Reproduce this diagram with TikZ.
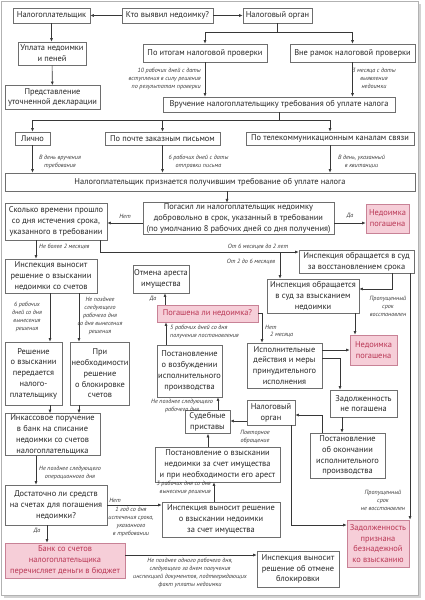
\documentclass[tikz,border=0pt]{standalone}
\usepackage{fontspec}
\setmainfont{PT Sans}
\usetikzlibrary{arrows.meta}
\definecolor{boxc}{RGB}{110,110,110}
\definecolor{txtc}{RGB}{40,40,40}
\definecolor{linec}{RGB}{55,55,55}
\definecolor{pinkf}{RGB}{246,206,216}
\definecolor{pinkd}{RGB}{200,130,150}
\definecolor{pinkt}{RGB}{185,55,85}
\definecolor{labc}{RGB}{60,60,60}
\newcommand\bxfont{\fontsize{8.4}{10.8}\selectfont}
\newcommand\lbfont{\fontsize{6.1}{7.9}\selectfont\itshape}
\begin{document}
\begin{tikzpicture}[x=1pt,y=-1pt,
 bx/.style={draw=boxc, line width=0.7pt, fill=white, text=txtc, align=center, font=\bxfont, inner sep=1pt},
 pk/.style={bx, fill=pinkf, draw=pinkd, text=pinkt},
 lb/.style={font=\lbfont, text=labc, align=center, inner sep=0pt},
 ar/.style={draw=linec, line width=0.6pt, -{Latex[length=3.5pt,width=3pt]}},
 ln/.style={draw=linec, line width=0.6pt}]
\useasboundingbox (0,0) rectangle (424,600);
\fill[white] (0,0) rectangle (424,600);
\fill[gray!35] (4,4) rectangle (421,598);
\draw[gray!60, line width=1pt, fill=white] (1.5,1.5) rectangle (418.5,595.5);

% nodes
\node[bx,minimum width=77pt,minimum height=15pt] (np) at (51.5,15.5) {Налогоплательщик};
\node[bx,minimum width=91pt,minimum height=15pt] (who) at (167.5,15.5) {Кто выявил недоимку?};
\node[bx,minimum width=69pt,minimum height=15pt] (no) at (277.5,15.5) {Налоговый орган};
\node[bx,minimum width=68pt,minimum height=23pt] (pay) at (52,53.5) {Уплата недоимки\\и пеней};
\node[bx,minimum width=95pt,minimum height=24pt] (decl) at (52.5,97.5) {Представление\\уточненной декларации};
\node[bx,minimum width=124pt,minimum height=18pt] (audit) at (205,53) {По итогам налоговой проверки};
\node[bx,minimum width=125pt,minimum height=18pt] (outs) at (352.5,53) {Вне рамок налоговой проверки};
\node[bx,minimum width=232pt,minimum height=15pt] (serve) at (279,104.5) {Вручение налогоплательщику требования об уплате налога};
\node[bx,minimum width=35pt,minimum height=13pt] (pers) at (32.5,138.5) {Лично};
\node[bx,minimum width=115pt,minimum height=13pt] (mail) at (162.5,138.5) {По почте заказным письмом};
\node[bx,minimum width=168pt,minimum height=13pt] (tele) at (330,138.5) {По телекоммуникационным каналам связи};
\node[bx,minimum width=410pt,minimum height=18pt] (recv) at (210,182) {Налогоплательщик признается получившим требование об уплате налога};
\node[bx,minimum width=191pt,minimum height=31pt] (vol) at (238.5,218.5) {Погасил ли налогоплательщик недоимку\\добровольно в срок, указанный в требовании\\(по умолчанию 8 рабочих дней со дня получения)};
\node[bx,minimum width=102pt,minimum height=37pt] (long) at (56,221.5) {Сколько времени прошло\\со дня истечения срока,\\указанного в требовании};
\node[pk,minimum width=43pt,minimum height=29pt] (pd1) at (387.5,218.5) {Недоимка\\погашена};
\node[bx,minimum width=115pt,minimum height=23pt] (rest) at (356.5,261.5) {Инспекция обращается в суд\\за восстановлением срока};
\node[bx,minimum width=92pt,minimum height=34pt] (court) at (313,296) {Инспекция обращается\\в суд за взысканием\\недоимки};
\node[bx,minimum width=92pt,minimum height=34pt] (dec) at (51,276) {Инспекция выносит\\решение о взыскании\\недоимки со счетов};
\node[bx,minimum width=52pt,minimum height=28pt] (unar) at (161,279) {Отмена ареста\\имущества};
\node[pk,minimum width=101pt,minimum height=17pt] (pq) at (207.5,313.5) {Погашена ли недоимка?};
\node[bx,minimum width=57pt,minimum height=63pt] (trans) at (33.5,373.5) {Решение\\о взыскании\\передается\\налого-\\плательщику};
\node[bx,minimum width=56pt,minimum height=63pt] (block) at (100,373.5) {При\\необходимости\\решение\\о блокировке\\счетов};
\node[bx,minimum width=65pt,minimum height=52pt] (vozb) at (189.5,371) {Постановление\\о возбуждении\\исполнительного\\производства};
\node[bx,minimum width=75pt,minimum height=45pt] (exec) at (284.5,365.5) {Исполнительные\\действия и меры\\принудительного\\исполнения};
\node[pk,minimum width=47pt,minimum height=30pt] (pd3) at (373.5,350) {Недоимка\\погашена};
\node[bx,minimum width=67pt,minimum height=27pt] (notp) at (363.5,403.5) {Задолженность\\не погашена};
\node[bx,minimum width=48pt,minimum height=25pt] (no2) at (271,412.5) {Налоговый\\орган};
\node[bx,minimum width=45pt,minimum height=23pt] (bail) at (207.5,422) {Судебные\\приставы};
\node[bx,minimum width=95pt,minimum height=42pt] (ink) at (52.5,434.5) {Инкассовое поручение\\в банк на списание\\недоимки со счетов\\налогоплательщика};
\node[bx,minimum width=75pt,minimum height=45pt] (end) at (347.5,455.5) {Постановление\\об окончании\\исполнительного\\производства};
\node[bx,minimum width=125pt,minimum height=35pt] (arr) at (217.5,464.5) {Постановление о взыскании\\недоимки за счет имущества\\и при необходимости его арест};
\node[bx,minimum width=102pt,minimum height=40pt] (enough) at (56,505) {Достаточно ли средств\\на счетах для погашения\\недоимки?};
\node[bx,minimum width=118pt,minimum height=35pt] (prop) at (221,519.5) {Инспекция выносит решение\\о взыскании недоимки\\за счет имущества};
\node[pk,minimum width=120pt,minimum height=35pt] (bank) at (65,560.5) {Банк со счетов\\налогоплательщика\\перечисляет деньги в бюджет};
\node[pk,minimum width=62pt,minimum height=47pt] (hope) at (378,543.5) {Задолженность\\признана\\безнадежной\\ко взысканию};
\node[bx,minimum width=82pt,minimum height=36pt] (unbl) at (298,569) {Инспекция выносит\\решение об отмене\\блокировки};

% labels
\node[lb,anchor=east,align=right] (l1) at (201,79) {10 рабочих дней с даты\\вступления в силу решения\\по результатам проверки};
\node[lb] (l2) at (374,78) {3 месяца с даты\\выявления\\недоимки};
\node[lb] (l3) at (60,161.5) {В день вручения\\требования};
\node[lb] (l4) at (198.5,161.5) {6 рабочих дней с даты\\отправки письма};
\node[lb] (l5) at (361.5,161.5) {В день, указанный\\в квитанции};
\node[lb] (l6) at (125,216) {Нет};
\node[lb] (l7) at (350,216) {Да};
\node[lb,anchor=west] (l8) at (39,247) {Не более 2 месяцев};
\node[lb] (l9) at (258,246.5) {От 6 месяцев до 2 лет};
\node[lb] (l10) at (251,262) {От 2 до 6 месяцев};
\node[lb] (l11) at (388,306) {Пропущенный\\срок\\восстановлен};
\node[lb] (l12) at (383,500) {Пропущенный\\срок\\не восстановлен};
\node[lb] (l13) at (27,317) {6 рабочих\\дней со дня\\вынесения\\решения};
\node[lb] (l14) at (100,316) {Не позднее\\следующего\\рабочего дня\\со дня вынесения\\решения};
\node[lb] (l15) at (70,473) {Не позднее следующего\\операционного дня};
\node[lb] (l16) at (37,531) {Да};
\node[lb] (l17) at (115,500) {Нет};
\node[lb] (l18) at (131,522) {1 год со дня\\истечения срока,\\указанного\\в требовании};
\node[lb] (l19) at (190,573) {Не позднее одного рабочего дня,\\следующего за днем получения\\инспекцией документов, подтверждающих\\факт уплаты недоимки};
\node[lb,anchor=east,align=right] (l20) at (211,488) {3 рабочих дня со дня\\вынесения решения};
\node[lb] (l21) at (182,406) {Не позднее следующего\\рабочего дня};
\node[lb,anchor=west,align=left] (l22) at (170,332) {5 рабочих дней со дня\\получения постановления};
\node[lb] (l23) at (153,299) {Да};
\node[lb,anchor=west] (l24) at (265,327) {Нет};
\node[lb,anchor=west] (l25) at (270,335) {2 месяца};
\node[lb] (l26) at (255,437) {Повторное\\обращение};

% connectors
\draw[ar] (who) -- (np);
\draw[ar] (who) -- (no);
\draw[ar] (no.south) -- ++(0,9) -| (audit.north);
\draw[ar] (no.south) -- ++(0,9) -| (outs.north);
\draw[ar] (audit.south) -- (audit.south |- serve.north);
\draw[ar] (outs.south) -- (outs.south |- serve.north);
\draw[ar] (np.south) -- (np.south |- pay.north);
\draw[ar] (pay) -- (decl);
\draw[ar] (serve.south) -- ++(0,8) -| (pers.north);
\draw[ar] (serve.south) -- ++(0,8) -| (mail.north);
\draw[ar] (serve.south) -- ++(0,8) -| (tele.north);
\draw[ar] (pers.south) -- (pers.south |- recv.north);
\draw[ar] (mail.south) -- (mail.south |- recv.north);
\draw[ar] (tele.south) -- (tele.south |- recv.north);
\draw[ar] (227,0 |- recv.south) -- (227,0 |- vol.north);
\draw[ar] (vol.west |- 0,223) -- (long.east |- 0,223);
\draw[ar] (vol.east |- 0,223) -- (pd1.west |- 0,223);
\draw[ar] (36,0 |- long.south) -- (36,0 |- dec.north);
\draw[ar] (100,0 |- long.south) |- (rest.west |- 0,252);
\coordinate (j1) at (280,252);
\draw[ar] (j1) -- (j1 |- court.north);
\draw[ar] (392,0 |- rest.south) |- (court.east |- 0,289);
\draw[ar] (410,0 |- rest.south) -- (410,0 |- hope.north);
\draw[ar] (355,0 |- court.south) -- (355,0 |- pd3.north);
\draw[ar] (50,0 |- dec.south) -- (50,0 |- trans.north);
\draw[ar] (79,0 |- dec.south) -- (79,0 |- block.north);
\draw[ar] (50,0 |- trans.south) -- (50,0 |- ink.north);
\draw[ar] (79,0 |- block.south) -- (79,0 |- ink.north);
\draw[ar] (36,0 |- ink.south) -- (36,0 |- enough.north);
\draw[ar] (47,0 |- enough.south) -- (47,0 |- bank.north);
\draw[ar] (enough.east |- 0,505) -- (prop.west |- 0,505);
\draw[ar] (bank.east |- 0,555) -- (unbl.west |- 0,555);
\draw[ar] (214,0 |- prop.north) -- (214,0 |- arr.south);
\draw[ar] (208,0 |- arr.north) -- (208,0 |- bail.south);
\draw[ar] (218,0 |- bail.north) -- (218,0 |- vozb.south);
\draw[ar] (166,0 |- vozb.north) -- (166,0 |- pq.south);
\draw[ar] (165,0 |- pq.north) -- (165,0 |- unar.south);
\draw[ar] (pq.east) -| (262,0 |- exec.north);
\draw[ar] (exec.east |- pd3.west) -- (pd3.west);
\draw[ar] (exec.east |- 0,358) -| (340,0 |- notp.north);
\draw[ar] (342,0 |- notp.south) -- (342,0 |- end.north);
\draw[ar] (322,0 |- end.north) |- (no2.east |- 0,415);
\draw[ar] (no2.west |- 0,421) -- (bail.east |- 0,421);
\draw[ar] (291,0 |- no2.south) |- (hope.west |- 0,525);
\end{tikzpicture}
\end{document}
